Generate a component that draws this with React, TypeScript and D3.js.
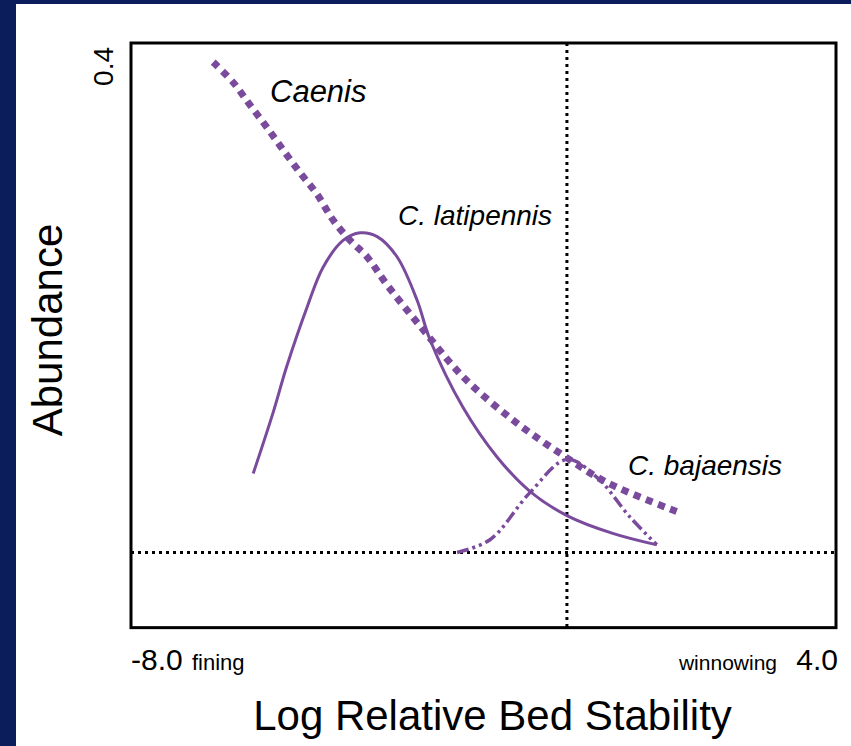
import React from 'react'
import * as d3 from 'd3'

// values (x: log relative bed stability, y: abundance)
const caenisX = [-6.6, -6.26, -5.97, -5.69, -5.41, -5.12, -4.83, -4.56, -4.27, -3.98, -3.64, -3.03, -2.35, -1.5, -0.7, 0.1, 1.3]
const caenisY = [0.385, 0.369, 0.351, 0.334, 0.316, 0.298, 0.281, 0.261, 0.245, 0.232, 0.21, 0.175, 0.138, 0.104, 0.078, 0.055, 0.032]

const latipennisX = [-5.92, -5.58, -5.35, -5.0, -4.73, -4.39, -4.1, -3.81, -3.47, -3.13, -2.91, -2.35, -1.77, -1.21, -0.58, 0.2, 0.95]
const latipennisY = [0.062, 0.11, 0.146, 0.193, 0.224, 0.245, 0.251, 0.248, 0.232, 0.198, 0.167, 0.114, 0.075, 0.048, 0.029, 0.015, 0.006]

const bajaensisX = [-2.45, -1.89, -1.21, -0.58, -0.07, 0.49, 0.95]
const bajaensisY = [0.0, 0.01, 0.047, 0.073, 0.059, 0.028, 0.006]

const xDomain = [-8, 4]
const yDomain = [-0.059, 0.4]
const refX = -0.58
const refY = 0

const xTickLabels = ['-8.0', '4.0']
const yTickLabels = ['0.4']
const xEndNotes = ['fining', 'winnowing']
const seriesNames = ['Caenis', 'C. latipennis', 'C. bajaensis']

const W = 851
const H = 746
const purple = '#7a4b9c'
const font = '"Liberation Sans", Arial, sans-serif'

const App = () => {
  const x = d3.scaleLinear().domain(xDomain).range([131, 836])
  const y = d3.scaleLinear().domain([0, 0.4]).range([552.5, 43])

  const line = d3
    .line<[number, number]>()
    .x((d) => x(d[0]))
    .y((d) => y(d[1]))
    .curve(d3.curveCatmullRom.alpha(0.5))

  const zip = (a: number[], b: number[]) => a.map((v, i) => [v, b[i]] as [number, number])

  const x0 = x(xDomain[0])
  const x1 = x(xDomain[1])
  const yTop = y(yDomain[1])
  const yBot = y(yDomain[0])

  return (
    <svg width={W} height={H} style={{ position: 'absolute', left: 0, top: 0, display: 'block' }}>
      <rect x={0} y={0} width={W} height={H} fill="#0b1e5b" />
      <rect x={16} y={4} width={W - 16} height={H - 4} fill="#ffffff" />

      {/* reference lines */}
      <line x1={x(refX)} x2={x(refX)} y1={yTop} y2={yBot} stroke="#000" strokeWidth={3} strokeDasharray="3,4" />
      <line x1={x0} x2={x1} y1={y(refY)} y2={y(refY)} stroke="#000" strokeWidth={3} strokeDasharray="3,4" />

      {/* curves */}
      <path d={line(zip(latipennisX, latipennisY)) || ''} fill="none" stroke={purple} strokeWidth={3} />
      <path
        d={line(zip(bajaensisX, bajaensisY)) || ''}
        fill="none"
        stroke={purple}
        strokeWidth={3.5}
        strokeDasharray="12,4,3,4,3,4"
      />
      <path d={line(zip(caenisX, caenisY)) || ''} fill="none" stroke={purple} strokeWidth={7} strokeDasharray="7,6" />

      {/* frame */}
      <rect x={x0} y={yTop} width={x1 - x0} height={yBot - yTop} fill="none" stroke="#000" strokeWidth={3} />

      {/* series labels */}
      <g fontFamily={font} fontStyle="italic" fill="#000">
        <text x={270} y={102} fontSize={31}>{seriesNames[0]}</text>
        <text x={398} y={225} fontSize={28}>{seriesNames[1]}</text>
        <text x={628} y={475} fontSize={28}>{seriesNames[2]}</text>
      </g>

      {/* axis texts */}
      <g fontFamily={font} fill="#000">
        <text transform={`translate(113, ${yTop + 4}) rotate(-90)`} textAnchor="end" fontSize={28}>
          {yTickLabels[0]}
        </text>
        <text transform="translate(62, 330) rotate(-90)" textAnchor="middle" fontSize={42}>
          Abundance
        </text>
        <text x={x0} y={670} fontSize={30}>{xTickLabels[0]}</text>
        <text x={192} y={670} fontSize={22}>{xEndNotes[0]}</text>
        <text x={777} y={670} textAnchor="end" fontSize={21}>{xEndNotes[1]}</text>
        <text x={x1 + 2} y={670} textAnchor="end" fontSize={30}>{xTickLabels[1]}</text>
        <text x={492.5} y={730} textAnchor="middle" fontSize={42}>
          Log Relative Bed Stability
        </text>
      </g>
    </svg>
  )
}

export default App
